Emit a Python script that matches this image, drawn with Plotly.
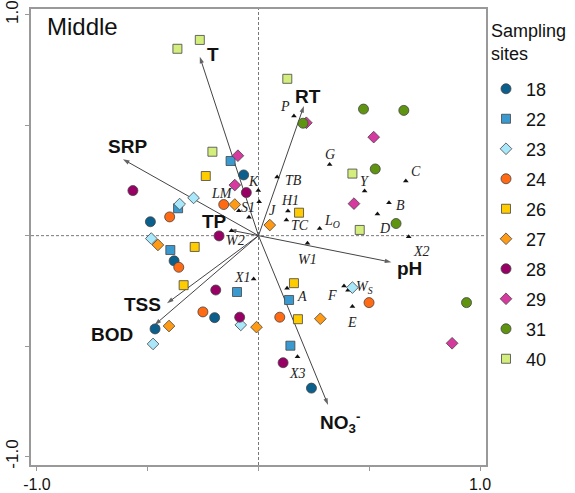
import plotly.graph_objects as go

# ---------------- data ----------------
sites = ["18", "22", "23", "24", "26", "27", "28", "29", "31", "40"]

x_18 = [-0.067, -0.488, -0.381, -0.198, -0.467, 0.239]
y_18 = [0.275, 0.063, -0.114, -0.371, -0.422, -0.690]
x_22 = [-0.126, -0.363, -0.398, -0.097, 0.138, 0.144]
y_22 = [0.338, 0.124, -0.065, -0.255, -0.291, -0.498]
x_23 = [-0.293, -0.356, -0.484, -0.080, -0.476, 0.424]
y_23 = [0.171, 0.143, -0.013, -0.404, -0.490, -0.235]
x_24 = [-0.157, -0.401, -0.360, -0.251, 0.096, 0.499]
y_24 = [0.141, 0.085, -0.143, -0.345, -0.369, -0.303]
x_26 = [-0.238, 0.183, -0.288, -0.338, 0.160, 0.178]
y_26 = [0.270, 0.104, -0.051, -0.224, -0.215, -0.378]
x_27 = [-0.107, 0.051, -0.454, -0.404, -0.009, 0.279]
y_27 = [0.141, 0.048, -0.042, -0.409, -0.414, -0.376]
x_28 = [-0.055, -0.567, -0.178, -0.193, -0.085, 0.111]
y_28 = [0.195, 0.204, -0.001, -0.246, -0.369, -0.575]
x_29 = [-0.093, -0.107, 0.216, 0.520, 0.431, 0.874]
y_29 = [0.362, 0.229, 0.511, 0.446, 0.145, -0.487]
x_31 = [0.201, 0.474, 0.656, 0.527, 0.621, 0.939]
y_31 = [0.509, 0.573, 0.567, 0.302, 0.055, -0.303]
x_40 = [-0.366, -0.265, -0.208, 0.130, 0.424, 0.457]
y_40 = [0.846, 0.886, 0.380, 0.710, 0.281, 0.026]

site_x = [x_18, x_22, x_23, x_24, x_26, x_27, x_28, x_29, x_31, x_40]
site_y = [y_18, y_22, y_23, y_24, y_26, y_27, y_28, y_29, y_31, y_40]

# environmental variables (arrow tips)
env_names = ["T", "SRP", "TP", "RT", "pH", "NO<sub>3</sub><sup>-</sup>", "TSS", "BOD"]
env_x = [-0.265, -0.612, -0.130, 0.205, 0.600, 0.314, -0.413, -0.469]
env_y = [0.810, 0.346, 0.026, 0.587, -0.120, -0.766, -0.306, -0.404]

# species / taxa scores
sp_names = ["P", "G", "C", "Y", "TB", "K", "H1", "B", "D", "X2", "TC",
            "L<sub>O</sub>", "J", "W2", "W1", "A", "F", "W<sub>S</sub>", "E",
            "X3", "X1", "LM", "S1"]
sp_x = [0.160, 0.321, 0.665, 0.479, 0.084, -0.001, 0.133, 0.589, 0.537, 0.678,
        0.126, 0.276, 0.003, -0.122, 0.221, 0.129, 0.386, 0.404, 0.424,
        0.176, -0.022, -0.089, -0.043]
sp_y = [0.542, 0.322, 0.248, 0.202, 0.266, 0.205, 0.112, 0.149, 0.098, -0.005,
        0.071, 0.033, 0.153, 0.022, -0.034, -0.238, -0.228, -0.247, -0.321,
        -0.548, -0.196, 0.113, 0.083]

tick_vals = [-1.0, 1.0]
tick_text = ["-1.0", "1.0"]
minor_step = 0.5

# ---------------- styles ----------------
site_colors = ["#0B5F8D", "#3A9AD0", "#A9E7FB", "#FF6A13", "#FFCC00",
               "#FF9A14", "#990066", "#D63A9E", "#5E9410", "#D4EE7E"]
site_symbols = ["circle", "square", "diamond", "circle", "square",
                "diamond", "circle", "diamond", "circle", "square"]
sym_size = {"circle": 10, "square": 9, "diamond": 9}

FONT_SANS = "Liberation Sans, Arial"
FONT_SERIF = "Liberation Serif, Times New Roman"

# label offsets (px) for env arrows: (dx right, dy down) from tip
env_off = [(13, -2), (5, -13), (-15, -8), (4, -9), (18, 6), (12, 18), (-25, 1), (-43, 10)]
# label offsets for species, px (dx right, dy down)
sp_off = [(-9, -9), (0, -10), (10, -9), (0, -10), (16, 4), (-5, -9), (2, -10),
          (12, 3), (7, 14), (13, 15), (14, 6), (12, -7), (13, 9), (4, 10),
          (0, 16), (15, 8), (-12, 9), (17, -3), (0, 16), (0, 17), (-11, -1),
          (-17, -17), (-1, -10)]

fig = go.Figure()

# dashed zero lines
fig.add_shape(type="line", xref="x", yref="paper", x0=0, x1=0, y0=0, y1=1,
              line=dict(color="#777", width=1, dash="3px,2px"), layer="below")
fig.add_shape(type="line", xref="paper", yref="y", x0=0, x1=1, y0=0, y1=0,
              line=dict(color="#777", width=1, dash="3px,2px"), layer="below")

# env arrows (line + arrowhead marker)
for i, name in enumerate(env_names):
    fig.add_trace(go.Scatter(
        x=[0, env_x[i]], y=[0, env_y[i]], mode="lines+markers",
        showlegend=False, hoverinfo="skip",
        line=dict(color="#444", width=1),
        marker=dict(symbol=["circle", "arrow"], size=[0, 7], color="#222",
                    angleref="previous", line=dict(width=0)),
    ))
    dx, dy = env_off[i]
    fig.add_annotation(x=env_x[i], y=env_y[i], xref="x", yref="y", text="<b>%s</b>" % name,
                       showarrow=False, xshift=dx, yshift=-dy,
                       font=dict(family=FONT_SANS, size=19, color="#111"))

# species triangles
fig.add_trace(go.Scatter(
    x=sp_x, y=sp_y, mode="markers", showlegend=False, hoverinfo="skip",
    marker=dict(symbol="triangle-up", size=5, color="#111"),
))

# species labels
for i, name in enumerate(sp_names):
    dx, dy = sp_off[i]
    fig.add_annotation(x=sp_x[i], y=sp_y[i], xref="x", yref="y", text="<i>%s</i>" % name,
                       showarrow=False, xshift=dx, yshift=-dy,
                       font=dict(family=FONT_SERIF, size=14, color="#222"))

# samples
for i, s in enumerate(sites):
    sym = site_symbols[i]
    fig.add_trace(go.Scatter(
        x=site_x[i], y=site_y[i], mode="markers", name=s, legendgroup=s,
        marker=dict(symbol=sym, size=sym_size[sym], color=site_colors[i],
                    line=dict(color="#444", width=0.8)),
    ))

fig.add_annotation(x=0.03, y=0.995, xref="paper", yref="paper", text="Middle",
                   showarrow=False, xanchor="left", yanchor="top",
                   font=dict(family=FONT_SANS, size=24, color="#111"))

fig.add_annotation(x=1.006, y=0.977, xref="paper", yref="paper", text="Sampling<br>sites",
                   showarrow=False, xanchor="left", yanchor="top", align="left",
                   font=dict(family=FONT_SANS, size=18, color="#111"))

axis_common = dict(
    tickmode="array", tickvals=tick_vals, ticktext=tick_text,
    showgrid=False, zeroline=False,
    showline=True, linecolor="#999", linewidth=1.5, mirror=True,
    ticks="outside", ticklen=4, tickcolor="#999", automargin=False,
    minor=dict(tickmode="linear", tick0=0, dtick=minor_step, ticks="outside",
               ticklen=4, tickcolor="#999", showgrid=False),
)

fig.update_layout(
    width=575, height=493,
    margin=dict(l=31, r=89, t=9, b=28),
    paper_bgcolor="white", plot_bgcolor="white",
    xaxis=dict(range=[-1.027, 1.027],
               tickfont=dict(family=FONT_SANS, size=16, color="#111"), **axis_common),
    yaxis=dict(range=[-1.038, 1.026], tickangle=-90,
               tickfont=dict(family=FONT_SANS, size=17, color="#111"), **axis_common),
    legend=dict(
        x=1.0, xanchor="left", y=0.865, yanchor="top",
        font=dict(family=FONT_SANS, size=18, color="#111"),
        tracegroupgap=3.6, bgcolor="rgba(0,0,0,0)",
    ),
)

fig.write_html("out.html")
